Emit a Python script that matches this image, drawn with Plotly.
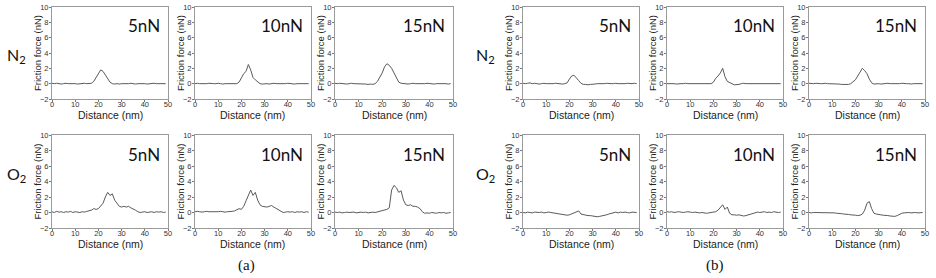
import plotly.graph_objects as go

W, H = 936, 278

distance_nm = list(range(0, 50))

a_N2_5nN = [0.05,0.0,0.05,0.0,-0.05,0.0,0.05,0.0,0.0,0.05,
            0.0,-0.05,0.0,0.0,0.05,0.0,0.0,0.05,0.3,0.8,
            1.4,1.8,1.6,1.1,0.6,0.2,0.0,-0.05,0.0,-0.05,
            0.0,0.0,-0.05,0.0,0.05,0.0,-0.05,0.0,0.0,0.05,
            0.0,-0.05,0.0,0.0,0.05,0.0,0.0,-0.05,0.0,0.0]
a_N2_10nN = [0.0,0.05,0.0,0.0,-0.05,0.0,0.05,0.0,0.0,0.0,
             0.05,0.0,-0.05,0.0,0.0,0.0,0.05,0.0,0.0,0.2,
             0.7,1.3,1.6,2.5,1.8,0.8,0.5,0.2,0.0,-0.05,
             0.0,0.0,-0.05,0.0,0.05,0.0,0.0,-0.05,0.0,0.0,
             0.05,0.0,0.0,-0.05,0.0,0.0,0.05,0.0,0.0,0.0]
a_N2_15nN = [0.05,0.0,0.05,0.0,0.0,-0.05,0.0,0.05,0.0,0.0,
             0.0,-0.05,0.0,-0.05,-0.1,-0.05,-0.1,0.0,0.3,0.8,
             1.4,2.2,2.6,2.4,2.0,1.4,0.7,0.2,0.05,0.0,
             0.0,-0.05,0.0,0.05,0.0,0.0,-0.05,0.0,0.0,0.05,
             0.0,0.0,-0.05,0.0,0.0,0.05,0.0,0.0,-0.05,0.0]
a_O2_5nN = [0.1,0.0,0.15,0.05,0.1,0.0,0.1,0.05,0.15,0.0,
            0.1,0.05,0.0,0.1,0.05,0.15,0.2,0.3,0.5,0.4,
            0.5,0.8,1.2,2.0,2.6,2.2,2.4,1.6,1.2,0.8,
            0.7,0.8,0.7,0.8,0.6,0.5,0.3,0.1,0.0,0.05,
            0.1,0.0,0.05,0.1,0.0,0.1,0.05,0.1,0.0,0.05]
a_O2_10nN = [0.1,0.15,0.1,0.05,0.1,0.15,0.1,0.1,0.05,0.1,
             0.1,0.15,0.1,0.05,0.1,0.1,0.15,0.2,0.4,0.5,
             0.4,0.8,1.5,2.2,2.9,2.2,2.6,1.6,1.0,0.8,
             0.7,0.7,0.8,0.9,0.7,0.5,0.3,0.1,0.0,0.05,
             0.1,0.05,0.1,0.0,0.1,0.05,0.1,0.0,0.1,0.05]
a_O2_15nN = [0.05,0.0,0.05,-0.05,0.0,0.05,0.0,0.0,0.05,-0.05,
             0.0,0.05,0.0,0.05,-0.05,0.0,0.05,0.0,0.1,0.2,
             0.3,0.3,0.4,0.6,2.9,3.5,3.2,2.6,2.8,1.6,
             1.0,0.9,1.0,0.8,0.8,0.7,0.5,0.1,-0.1,-0.05,
             -0.1,0.0,-0.05,-0.1,0.0,-0.05,0.0,-0.1,-0.05,0.0]
b_N2_5nN = [0.05,0.0,0.05,0.1,0.0,0.05,0.0,-0.05,0.0,0.05,
            0.0,0.0,-0.05,0.0,0.05,0.0,0.0,-0.05,0.0,0.1,
            0.6,1.0,1.1,0.8,0.4,0.05,-0.1,-0.1,-0.15,-0.1,
            -0.1,-0.05,0.0,0.0,-0.05,0.0,0.05,0.0,0.0,0.0,
            0.05,0.0,0.0,-0.05,0.0,0.05,0.0,0.0,0.05,0.0]
b_N2_10nN = [0.0,0.0,0.05,0.0,-0.05,0.0,0.0,0.0,0.05,0.0,
             0.0,-0.05,0.0,0.0,0.0,-0.05,0.0,0.0,-0.05,0.0,
             0.2,0.7,1.0,1.4,2.0,0.9,0.3,0.2,0.0,-0.15,
             -0.15,-0.1,0.0,0.05,0.0,0.0,0.05,0.0,0.0,0.05,
             0.0,0.0,0.05,0.0,0.0,0.05,0.0,0.0,0.0,0.0]
b_N2_15nN = [0.05,0.0,0.0,0.05,0.0,0.0,0.0,0.05,0.0,0.0,
             0.0,-0.05,0.0,-0.05,-0.1,-0.1,-0.15,-0.1,0.0,0.2,
             0.5,1.0,1.6,2.0,1.7,1.3,0.6,0.1,-0.05,0.0,
             0.0,-0.05,0.0,0.0,0.05,0.0,0.0,-0.05,0.0,0.0,
             0.05,0.0,0.0,0.0,-0.05,0.0,0.0,0.05,0.0,0.0]
b_O2_5nN = [0.0,-0.05,0.05,0.0,-0.05,0.05,0.0,0.0,0.05,-0.05,
            0.0,0.05,0.0,-0.05,-0.1,-0.15,-0.2,-0.25,-0.3,-0.35,
            -0.3,-0.2,-0.1,0.05,0.2,-0.2,-0.3,-0.35,-0.4,-0.4,
            -0.45,-0.5,-0.55,-0.5,-0.45,-0.4,-0.3,-0.2,-0.1,0.0,
            0.05,-0.05,0.05,0.0,0.05,0.0,-0.05,0.05,0.0,0.0]
b_O2_10nN = [0.1,0.05,0.1,0.0,0.05,0.1,0.05,0.0,0.05,0.1,
             0.05,0.0,0.05,0.0,-0.05,0.0,-0.05,-0.1,-0.05,0.0,
             0.05,0.1,0.3,0.6,1.0,0.4,0.7,-0.1,-0.3,-0.3,
             -0.35,-0.3,-0.4,-0.45,-0.4,-0.3,-0.2,-0.1,0.0,0.05,
             0.0,0.05,0.1,0.0,0.05,0.0,0.1,0.05,0.0,0.05]
b_O2_15nN = [0.0,-0.05,0.0,0.0,-0.05,0.0,0.0,-0.05,0.0,-0.05,
             0.0,-0.05,-0.1,-0.1,-0.15,-0.2,-0.2,-0.25,-0.3,-0.3,
             -0.35,-0.4,-0.35,-0.2,0.3,1.2,1.4,0.5,-0.1,-0.2,
             -0.3,-0.3,-0.35,-0.35,-0.4,-0.45,-0.5,-0.5,-0.4,-0.2,
             -0.1,-0.05,0.0,0.0,-0.05,0.0,0.0,-0.05,0.0,0.0]

load_labels = ["5nN", "10nN", "15nN"]
gas_labels = ["N<sub>2</sub>", "O<sub>2</sub>"]
group_labels = ["(a)", "(b)"]
x_title = "Distance (nm)"
y_title = "Friction force (nN)"
y_ticks = [-2, 0, 2, 4, 6, 8, 10]
x_ticks = [0, 10, 20, 30, 40, 50]

series = [
    [a_N2_5nN, a_N2_10nN, a_N2_15nN, b_N2_5nN, b_N2_10nN, b_N2_15nN],
    [a_O2_5nN, a_O2_10nN, a_O2_15nN, b_O2_5nN, b_O2_10nN, b_O2_15nN],
]

# pixel layout (page coordinates)
col_px = [(52, 168), (195, 311), (335, 453), (523, 639), (667, 783), (809, 925)]
row_px = [(7, 99), (135, 228)]
xtitle_y = [115, 244]

def px_x(p):
    return p / W

def px_y(p):
    return 1 - p / H

def set_axis(fig, name, props, standoff):
    try:
        fig.layout[name] = dict(props, ticklabelstandoff=standoff)
    except ValueError:
        fig.layout[name] = props

fig = go.Figure()
annotations = []
k = 0
for r, (top, bot) in enumerate(row_px):
    for c, (left, right) in enumerate(col_px):
        k += 1
        xa = "x" if k == 1 else f"x{k}"
        ya = "y" if k == 1 else f"y{k}"
        fig.add_trace(go.Scatter(
            x=distance_nm, y=series[r][c], mode="lines",
            line=dict(color="#5a5a5a", width=1),
            xaxis=xa, yaxis=ya, showlegend=False, hoverinfo="skip"))
        axis_common = dict(
            showgrid=False, zeroline=False, showline=True, mirror=True,
            linecolor="#9a9a9a", linewidth=1, ticks="outside", ticklen=2,
            tickcolor="#777777", automargin=False,
            tickfont=dict(family="Liberation Sans", size=7.5, color="#333333"),
        )
        set_axis(fig, f"xaxis{'' if k == 1 else k}", dict(
            axis_common, domain=[px_x(left), px_x(right)], range=[0, 50],
            tickvals=x_ticks, anchor=ya), -4)
        set_axis(fig, f"yaxis{'' if k == 1 else k}", dict(
            axis_common, domain=[px_y(bot), px_y(top)], range=[-2, 10],
            tickvals=y_ticks, anchor=xa), -1)
        # axis titles
        annotations.append(dict(
            x=px_x((left + right) / 2), y=px_y(xtitle_y[r]), xref="paper", yref="paper",
            text=x_title, showarrow=False, xanchor="center", yanchor="middle",
            font=dict(family="Liberation Sans", size=10.5, color="#222222")))
        annotations.append(dict(
            x=px_x(left - 15), y=px_y((top + bot) / 2), xref="paper", yref="paper",
            text=y_title, textangle=-90, showarrow=False, xanchor="center", yanchor="middle",
            font=dict(family="Liberation Sans", size=9.5, color="#222222")))
        # load label
        annotations.append(dict(
            x=px_x(right - 6), y=px_y(top + 19), xref="paper", yref="paper",
            text=load_labels[c % 3], showarrow=False, xanchor="right", yanchor="middle",
            font=dict(family="Lato", size=17, color="#111111")))

gas_y = [55, 174]
for r in range(2):
    for gx in (16, 485):
        annotations.append(dict(
            x=px_x(gx), y=px_y(gas_y[r]), xref="paper", yref="paper",
            text=gas_labels[r], showarrow=False, xanchor="center", yanchor="middle",
            font=dict(family="Lato", size=16, color="#111111")))

for gx, lab in zip((246, 715), group_labels):
    annotations.append(dict(
        x=px_x(gx), y=px_y(265), xref="paper", yref="paper",
        text=lab, showarrow=False, xanchor="center", yanchor="middle",
        font=dict(family="Liberation Serif", size=15, color="#111111")))

fig.update_layout(
    width=W, height=H, margin=dict(l=0, r=0, t=0, b=0, autoexpand=False),
    paper_bgcolor="white", plot_bgcolor="white",
    annotations=annotations,
)

fig.write_html("out.html", config={"displayModeBar": False},
               post_script="document.body.style.margin='0px';document.body.style.overflow='hidden';")
